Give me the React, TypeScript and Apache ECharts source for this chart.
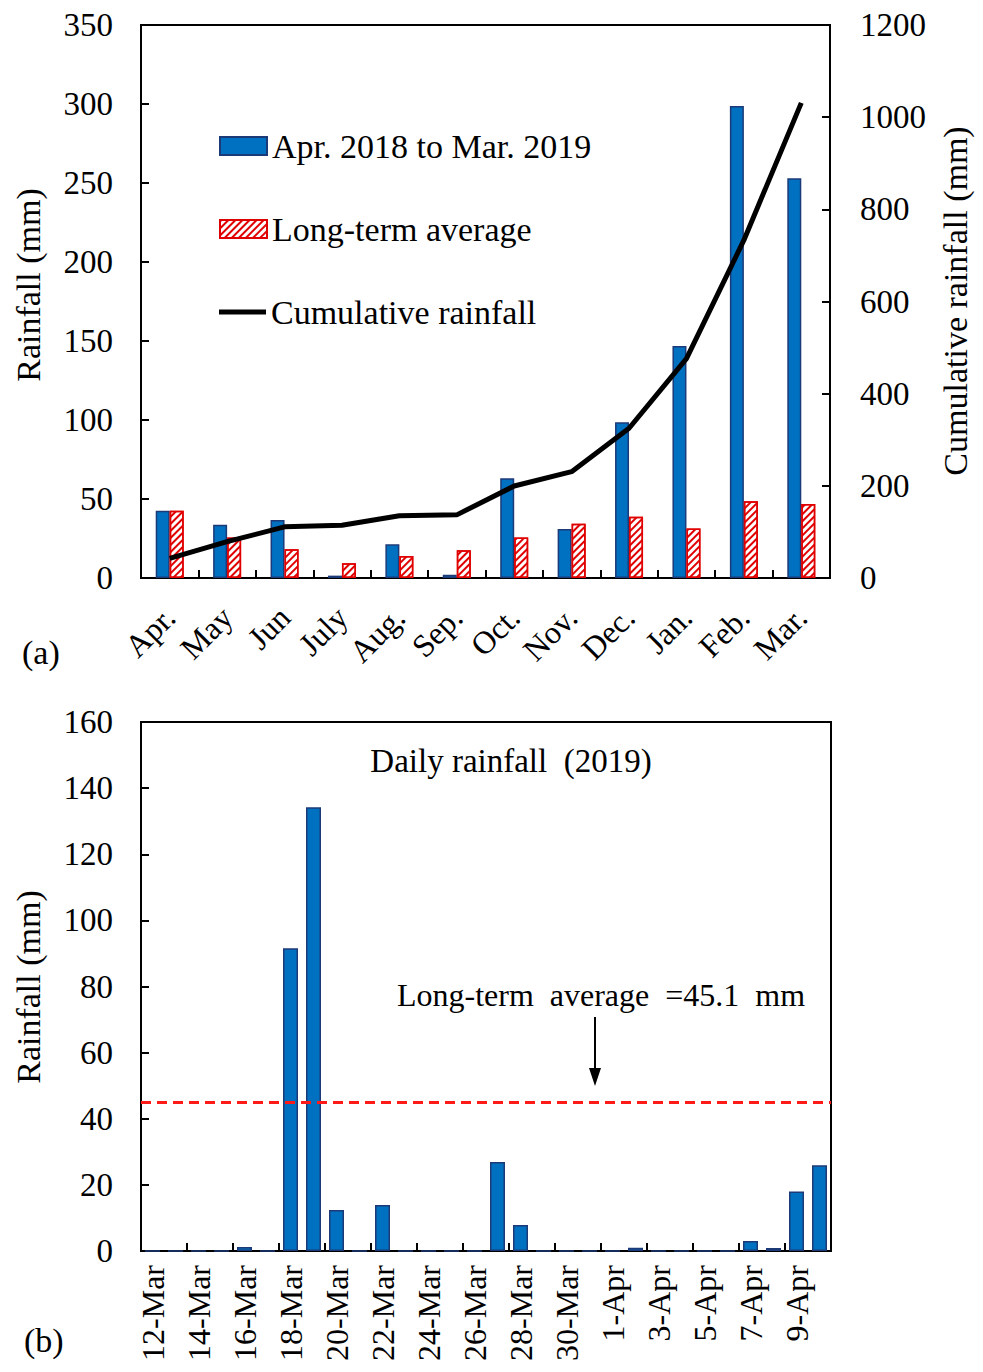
import React, { useEffect, useRef } from 'react';
import * as echarts from 'echarts';

// Monthly rainfall, April 2018 – March 2019 (mm)
const months = ['Apr.', 'May', 'Jun', 'July', 'Aug.', 'Sep.', 'Oct.', 'Nov.', 'Dec.', 'Jan.', 'Feb.', 'Mar.'];
const monthlyRain = [42.6, 33.7, 36.7, 1.5, 21.3, 2.1, 63.1, 31.0, 98.5, 146.8, 298.7, 253.0];
const longTermAvg = [42.6, 25.7, 18.2, 9.3, 13.9, 17.5, 25.7, 34.4, 38.8, 31.4, 48.5, 46.8];
const cumulativeRain = [42.7, 78.8, 111, 114.6, 135, 137, 199.6, 230.7, 325, 476, 733, 1031];

// Daily rainfall, 12 March – 10 April 2019 (mm)
const days = [
  '12-Mar', '13-Mar', '14-Mar', '15-Mar', '16-Mar', '17-Mar', '18-Mar', '19-Mar', '20-Mar', '21-Mar',
  '22-Mar', '23-Mar', '24-Mar', '25-Mar', '26-Mar', '27-Mar', '28-Mar', '29-Mar', '30-Mar', '31-Mar',
  '1-Apr', '2-Apr', '3-Apr', '4-Apr', '5-Apr', '6-Apr', '7-Apr', '8-Apr', '9-Apr', '10-Apr',
];
const dailyRain = [
  0, 0, 0, 0, 1.2, 0, 91.6, 134.2, 12.4, 0,
  13.9, 0, 0, 0, 0, 26.9, 7.9, 0, 0, 0,
  0, 1.0, 0, 0, 0, 0, 3.0, 0.9, 18.0, 25.9,
];
const dailyLongTermAvg = 45.1;

const SERIES_MONTHLY = 'Apr. 2018 to Mar. 2019';
const SERIES_AVG = 'Long-term average';
const SERIES_CUM = 'Cumulative rainfall';

const FONT = "'Liberation Serif', 'Times New Roman', serif";
const BLUE = '#0070c0';
const BLUE_EDGE = '#1c3a78';
const RED = '#e00000';

const axisLine = { show: true, lineStyle: { color: '#000', width: 2 } };
const axisTick = { show: true, inside: true, length: 8, lineStyle: { color: '#000', width: 2 } };
const label = (extra: object) => ({ color: '#000', fontFamily: FONT, fontSize: 33, ...extra });
const plain = (v: number) => String(v);

// Rotated axis title drawn as a graphic text centred on (x, y)
const axisTitle = (text: string, x: number, y: number) => ({
  type: 'text',
  x,
  y,
  rotation: Math.PI / 2,
  style: {
    text,
    fill: '#000',
    fontFamily: FONT,
    fontSize: 34,
    align: 'center',
    verticalAlign: 'middle',
  },
});

export default function App() {
  const ref = useRef<HTMLDivElement>(null);

  useEffect(() => {
    if (!ref.current) return;
    const chart = echarts.init(ref.current, null, { renderer: 'svg' });

    const legendBase = {
      orient: 'vertical',
      padding: 0,
      itemWidth: 47,
      itemHeight: 18,
      selectedMode: false,
      textStyle: { color: '#000', fontFamily: FONT, fontSize: 34 },
    };

    chart.setOption({
      animation: false,
      backgroundColor: '#fff',
      textStyle: { fontFamily: FONT },
      grid: [
        { left: 141, top: 25, width: 689, height: 553, show: true, borderColor: '#000', borderWidth: 2 },
        { left: 141, top: 722, width: 690, height: 529, show: true, borderColor: '#000', borderWidth: 2 },
      ],
      legend: [
        { ...legendBase, left: 219, top: 129, data: [{ name: SERIES_MONTHLY, icon: 'rect' }] },
        { ...legendBase, left: 219, top: 212, data: [{ name: SERIES_AVG, icon: 'rect' }] },
        { ...legendBase, left: 219, top: 295, itemHeight: 5, data: [{ name: SERIES_CUM, icon: 'rect' }] },
      ],
      xAxis: [
        {
          type: 'category',
          gridIndex: 0,
          data: months,
          axisLine,
          axisTick,
          axisLabel: label({ rotate: 45, margin: 34, fontSize: 32, interval: 0, hideOverlap: false }),
        },
        {
          type: 'category',
          gridIndex: 1,
          data: days,
          axisLine,
          axisTick: { ...axisTick, interval: 1 },
          axisLabel: label({ rotate: 90, margin: 14, fontSize: 32, interval: 1 }),
        },
      ],
      yAxis: [
        {
          type: 'value',
          gridIndex: 0,
          min: 0,
          max: 350,
          interval: 50,
          splitLine: { show: false },
          axisLine,
          axisTick,
          axisLabel: label({ margin: 28, formatter: plain }),
        },
        {
          type: 'value',
          gridIndex: 0,
          position: 'right',
          min: 0,
          max: 1200,
          interval: 200,
          splitLine: { show: false },
          axisLine,
          axisTick,
          axisLabel: label({ margin: 30, formatter: plain }),
        },
        {
          type: 'value',
          gridIndex: 1,
          min: 0,
          max: 160,
          interval: 20,
          splitLine: { show: false },
          axisLine,
          axisTick,
          axisLabel: label({ margin: 28, formatter: plain }),
        },
      ],
      series: [
        {
          name: SERIES_MONTHLY,
          type: 'bar',
          xAxisIndex: 0,
          yAxisIndex: 0,
          data: monthlyRain,
          barWidth: 14,
          barGap: '0%',
          itemStyle: { color: BLUE, borderColor: BLUE_EDGE, borderWidth: 1.5 },
        },
        {
          name: SERIES_AVG,
          type: 'bar',
          xAxisIndex: 0,
          yAxisIndex: 0,
          data: longTermAvg,
          barWidth: 14,
          barGap: '0%',
          itemStyle: {
            color: '#ffffff',
            borderColor: RED,
            borderWidth: 1.5,
            decal: {
              symbol: 'rect',
              symbolSize: 1,
              color: RED,
              dashArrayX: [1, 0],
              dashArrayY: [1.5, 3],
              rotation: -Math.PI / 4,
            },
          },
        },
        {
          name: SERIES_CUM,
          type: 'line',
          xAxisIndex: 0,
          yAxisIndex: 1,
          data: cumulativeRain,
          symbol: 'none',
          showSymbol: false,
          itemStyle: { color: '#000' },
          lineStyle: { color: '#000', width: 5 },
          z: 5,
        },
        {
          name: 'Daily rainfall (2019)',
          type: 'bar',
          xAxisIndex: 1,
          yAxisIndex: 2,
          data: dailyRain,
          barWidth: 15,
          itemStyle: { color: BLUE, borderColor: BLUE_EDGE, borderWidth: 1.5 },
          markLine: {
            silent: true,
            symbol: ['none', 'none'],
            label: { show: false },
            lineStyle: { color: '#ff1a1a', type: [10, 6], width: 3 },
            data: [{ yAxis: dailyLongTermAvg }],
          },
        },
      ],
      graphic: [
        axisTitle('Rainfall (mm)', 28, 285),
        axisTitle('Cumulative rainfall (mm)', 955, 301),
        axisTitle('Rainfall (mm)', 28, 987),
        {
          type: 'text',
          x: 22,
          y: 652,
          style: { text: '(a)', fill: '#000', fontFamily: FONT, fontSize: 34, verticalAlign: 'middle' },
        },
        {
          type: 'text',
          x: 24,
          y: 1340,
          style: { text: '(b)', fill: '#000', fontFamily: FONT, fontSize: 34, verticalAlign: 'middle' },
        },
        {
          type: 'text',
          x: 511,
          y: 761,
          style: {
            text: 'Daily rainfall  (2019)',
            fill: '#000',
            fontFamily: FONT,
            fontSize: 33,
            align: 'center',
            verticalAlign: 'middle',
          },
        },
        {
          type: 'text',
          x: 601,
          y: 995,
          style: {
            text: 'Long-term  average  =45.1  mm',
            fill: '#000',
            fontFamily: FONT,
            fontSize: 32,
            align: 'center',
            verticalAlign: 'middle',
          },
        },
        {
          type: 'line',
          shape: { x1: 595, y1: 1017, x2: 595, y2: 1072 },
          style: { stroke: '#000', lineWidth: 2 },
        },
        {
          type: 'polygon',
          shape: { points: [[589, 1068], [601, 1068], [595, 1086]] },
          style: { fill: '#000' },
        },
      ],
    });

    return () => chart.dispose();
  }, []);

  return (
    <div
      ref={ref}
      style={{ position: 'absolute', left: 0, top: 0, width: 983, height: 1372, background: '#fff' }}
    />
  );
}
